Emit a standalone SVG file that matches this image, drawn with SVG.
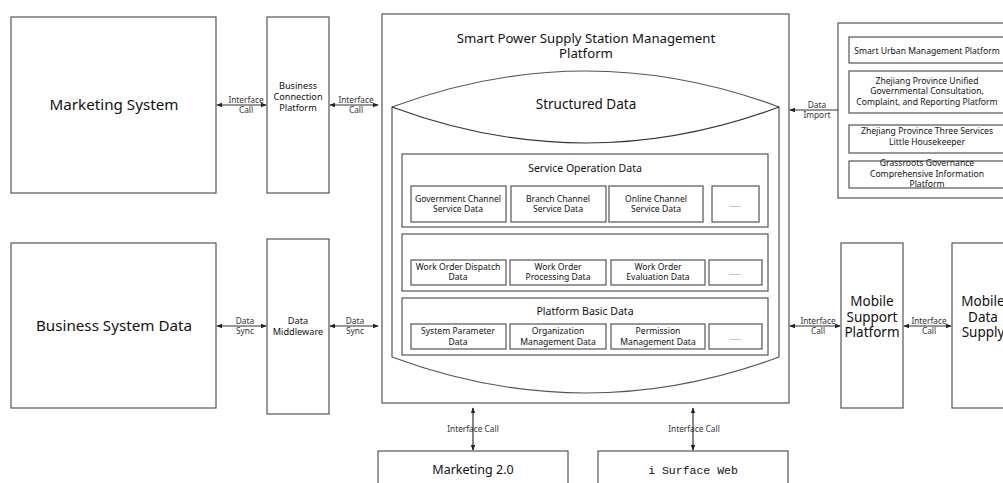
<svg xmlns="http://www.w3.org/2000/svg" width="1003" height="483" viewBox="0 0 1003 483">
<style>
.b{fill:#fff;stroke:#555;stroke-width:1.2}
.t{font-family:"Noto Sans","Open Sans",sans-serif;fill:#111;text-anchor:middle}
.s{font-size:8.6px}
.d{font-family:"Noto Sans",sans-serif;fill:#777;text-anchor:middle;font-size:7px}
.l{font-family:"Noto Sans","Open Sans",sans-serif;fill:#333;text-anchor:middle;font-size:8.3px}
.c{fill:none;stroke:#333;stroke-width:1.2}
</style>
<defs>
<marker id="ah" viewBox="0 0 8 8" refX="7" refY="4" markerWidth="6" markerHeight="6" orient="auto-start-reverse" markerUnits="userSpaceOnUse">
<path d="M0,1 L8,4 L0,7 Z" fill="#222"/>
</marker>
</defs>
<rect width="1003" height="483" fill="#fff"/>

<g id="marketing-system"><rect class="b" x="11" y="17" width="205" height="176"/><text class="t" x="114" y="110" font-size="15.2">Marketing System</text></g>
<g id="business-connection"><rect class="b" x="267" y="17" width="62" height="176"/><text class="t" x="298" y="89" font-size="9.2">Business</text><text class="t" x="298" y="100" font-size="9.2">Connection</text><text class="t" x="298" y="111" font-size="9.2">Platform</text></g>
<g id="business-system-data"><rect class="b" x="11" y="243" width="205" height="165"/><text class="t" x="114" y="331" font-size="15.2">Business System Data</text></g>
<g id="data-middleware"><rect class="b" x="267" y="239" width="62" height="175"/><text class="t" x="298" y="324" font-size="9.2">Data</text><text class="t" x="298" y="335" font-size="9.2">Middleware</text></g>

<g id="main-platform">
<rect class="b" x="382" y="14" width="407" height="389"/>
<text class="t" x="586" y="43" font-size="13.2">Smart Power Supply Station Management</text>
<text class="t" x="586" y="58" font-size="13.2">Platform</text>
<path class="b" d="M392,107 Q586,35 779,107 L779,357 Q586,429 392,357 Z"/>
<path class="c" d="M392,107 Q586,179 779,107" stroke="#555"/>
<text class="t" x="586" y="109" font-size="13.5">Structured Data</text>
<g id="service-operation">
<rect class="b" x="402" y="154" width="366" height="73"/>
<text class="t" x="585" y="172" font-size="10.5">Service Operation Data</text>
<rect class="b" x="411" y="186" width="95" height="36"/><text class="t s" x="458" y="202">Government Channel</text><text class="t s" x="458" y="212">Service Data</text>
<rect class="b" x="511" y="186" width="95" height="36"/><text class="t s" x="558" y="202">Branch Channel</text><text class="t s" x="558" y="212">Service Data</text>
<rect class="b" x="609" y="186" width="94" height="36"/><text class="t s" x="656" y="202">Online Channel</text><text class="t s" x="656" y="212">Service Data</text>
<rect class="b" x="712" y="186" width="47" height="36"/><text class="d" x="735" y="207">......</text>
</g>
<g id="work-order">
<rect class="b" x="402" y="234" width="366" height="57"/>
<rect class="b" x="411" y="260" width="95" height="25"/><text class="t s" x="458" y="270">Work Order Dispatch</text><text class="t s" x="458" y="280">Data</text>
<rect class="b" x="510" y="260" width="96" height="25"/><text class="t s" x="558" y="270">Work Order</text><text class="t s" x="558" y="280">Processing Data</text>
<rect class="b" x="611" y="260" width="94" height="25"/><text class="t s" x="658" y="270">Work Order</text><text class="t s" x="658" y="280">Evaluation Data</text>
<rect class="b" x="709" y="260" width="53" height="25"/><text class="d" x="735" y="275">......</text>
</g>
<g id="platform-basic">
<rect class="b" x="402" y="298" width="366" height="57"/>
<text class="t" x="585" y="315" font-size="10.5">Platform Basic Data</text>
<rect class="b" x="411" y="324" width="95" height="25"/><text class="t s" x="458" y="334">System Parameter</text><text class="t s" x="458" y="345">Data</text>
<rect class="b" x="510" y="324" width="96" height="25"/><text class="t s" x="558" y="334">Organization</text><text class="t s" x="558" y="345">Management Data</text>
<rect class="b" x="611" y="324" width="94" height="25"/><text class="t s" x="658" y="334">Permission</text><text class="t s" x="658" y="345">Management Data</text>
<rect class="b" x="709" y="324" width="53" height="25"/><text class="d" x="735" y="340">......</text>
</g>
</g>

<g id="external-platforms">
<rect class="b" x="838" y="23" width="175" height="175"/>
<rect class="b" x="849" y="37" width="160" height="26"/><text class="t s" x="927" y="54">Smart Urban Management Platform</text>
<rect class="b" x="849" y="71" width="160" height="42"/><text class="t s" x="927" y="84">Zhejiang Province Unified</text><text class="t s" x="927" y="94">Governmental Consultation,</text><text class="t s" x="927" y="105">Complaint, and Reporting Platform</text>
<rect class="b" x="849" y="125" width="160" height="28"/><text class="t s" x="927" y="134">Zhejiang Province Three Services</text><text class="t s" x="927" y="145">Little Housekeeper</text>
<rect class="b" x="849" y="161" width="160" height="27"/><text class="t s" x="927" y="166">Grassroots Governance</text><text class="t s" x="927" y="177">Comprehensive Information</text><text class="t s" x="927" y="187">Platform</text>
</g>

<g id="mobile-support"><rect class="b" x="841" y="243" width="62" height="165"/><text class="t" x="872" y="306" font-size="13.5">Mobile</text><text class="t" x="872" y="322" font-size="13.5">Support</text><text class="t" x="872" y="337" font-size="13.5">Platform</text></g>
<g id="mobile-data-supply"><rect class="b" x="952" y="243" width="70" height="165"/><text class="t" x="983" y="306" font-size="13.5">Mobile</text><text class="t" x="983" y="322" font-size="13.5">Data</text><text class="t" x="983" y="337" font-size="13.5">Supply</text></g>
<g id="marketing-20"><rect class="b" x="378" y="451" width="190" height="40"/><text class="t" x="473" y="474" font-size="12.5">Marketing 2.0</text></g>
<g id="isurface-web"><rect class="b" x="598" y="451" width="190" height="40"/><text x="693" y="474" font-size="11.5" font-family="'Liberation Mono',monospace" text-anchor="middle" fill="#111">i Surface Web</text></g>

<g id="connectors">
<line class="c" x1="217" y1="105" x2="266" y2="105" marker-start="url(#ah)" marker-end="url(#ah)"/>
<text class="l" x="246" y="103">Interface</text><text class="l" x="246" y="113">Call</text>
<line class="c" x1="330" y1="105" x2="378" y2="105" marker-start="url(#ah)" marker-end="url(#ah)"/>
<text class="l" x="356" y="103">Interface</text><text class="l" x="356" y="113">Call</text>
<line class="c" x1="217" y1="326" x2="266" y2="326" marker-start="url(#ah)" marker-end="url(#ah)"/>
<text class="l" x="245" y="324">Data</text><text class="l" x="245" y="334">Sync</text>
<line class="c" x1="330" y1="326" x2="378" y2="326" marker-start="url(#ah)" marker-end="url(#ah)"/>
<text class="l" x="355" y="324">Data</text><text class="l" x="355" y="334">Sync</text>
<line class="c" x1="838" y1="110" x2="790" y2="110" marker-end="url(#ah)"/>
<text class="l" x="817" y="108">Data</text><text class="l" x="817" y="118">Import</text>
<line class="c" x1="790" y1="326" x2="840" y2="326" marker-start="url(#ah)" marker-end="url(#ah)"/>
<text class="l" x="818" y="324">Interface</text><text class="l" x="818" y="334">Call</text>
<line class="c" x1="904" y1="326" x2="951" y2="326" marker-start="url(#ah)" marker-end="url(#ah)"/>
<text class="l" x="929" y="324">Interface</text><text class="l" x="929" y="334">Call</text>
<line class="c" x1="473" y1="408" x2="473" y2="450" marker-start="url(#ah)" marker-end="url(#ah)"/>
<text class="l" x="473" y="432">Interface Call</text>
<line class="c" x1="693" y1="408" x2="693" y2="450" marker-start="url(#ah)" marker-end="url(#ah)"/>
<text class="l" x="694" y="432">Interface Call</text>
</g>
</svg>
